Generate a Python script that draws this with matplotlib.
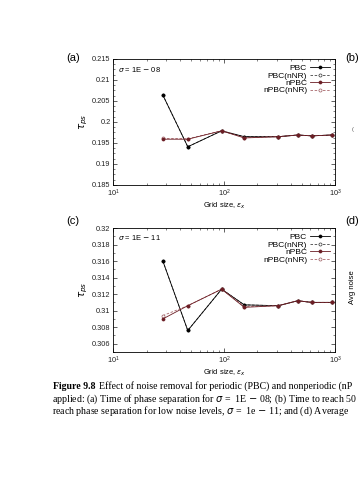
import numpy as np
import matplotlib.pyplot as plt
from matplotlib.ticker import AutoMinorLocator, FixedLocator, LogLocator, NullFormatter

# grid sizes
grid = [28, 47, 95, 152, 308, 461, 617, 935]

# (a) sigma = 1E-08
pbc_a = [0.2064, 0.1941, 0.1979, 0.1965, 0.1965, 0.1969, 0.1967, 0.1969]
pbc_nnr_a = [0.2064, 0.1941, 0.1979, 0.1965, 0.1965, 0.1969, 0.1967, 0.1969]
npbc_a = [0.1959, 0.1959, 0.1979, 0.1962, 0.1965, 0.1969, 0.1967, 0.1969]
npbc_nnr_a = [0.1961, 0.1960, 0.1979, 0.1963, 0.1965, 0.1969, 0.1967, 0.1969]

# (c) sigma = 1E-11
pbc_c = [0.3160, 0.3076, 0.3126, 0.3107, 0.3106, 0.3112, 0.3110, 0.3110]
pbc_nnr_c = [0.3160, 0.3076, 0.3126, 0.3107, 0.3106, 0.3112, 0.3110, 0.3110]
npbc_c = [0.3090, 0.3106, 0.3126, 0.3104, 0.3106, 0.3112, 0.3110, 0.3110]
npbc_nnr_c = [0.3094, 0.3106, 0.3126, 0.3105, 0.3106, 0.3112, 0.3110, 0.3110]

labels = ['PBC', 'PBC(nNR)', 'nPBC', 'nPBC(nNR)']

plt.rcParams['font.family'] = ['Liberation Sans', 'DejaVu Sans']
plt.rcParams['mathtext.fontset'] = 'dejavusans'

fig = plt.figure(figsize=(3.59, 4.80), dpi=100)


def panel(rect, series, ylim, yticks, yminor, sigma_txt):
    ax = fig.add_axes(rect)
    styles = [
        dict(color='black', ls='-', marker='o', mfc='black', mec='black'),
        dict(color='#444444', ls=(0, (3, 2)), marker='o', mfc='white', mec='#333333'),
        dict(color='#6b1d24', ls='-', marker='o', mfc='#6b1d24', mec='#6b1d24'),
        dict(color='#a8666b', ls=(0, (3, 2)), marker='o', mfc='white', mec='#9a5a5f'),
    ]
    order = [1, 0, 3, 2]
    for i in order:
        ax.plot(grid, series[i], lw=0.6, ms=2.2, mew=0.5, label=labels[i], **styles[i])
    ax.set_xscale('log')
    ax.set_xlim(10, 1000)
    ax.set_ylim(*ylim)
    ax.yaxis.set_major_locator(FixedLocator(yticks))
    ax.set_yticklabels([('%g' % v) for v in yticks])
    ax.yaxis.set_minor_locator(AutoMinorLocator(yminor))
    ax.xaxis.set_minor_locator(LogLocator(base=10, subs=np.arange(2, 10)))
    ax.xaxis.set_minor_formatter(NullFormatter())
    ax.tick_params(which='both', direction='in', top=True, right=True,
                   labelsize=5.3, colors='#222222', pad=2)
    ax.tick_params(which='major', length=3, width=0.5)
    ax.tick_params(which='minor', length=1.6, width=0.4)
    for s in ax.spines.values():
        s.set_linewidth(0.6)
    ax.set_ylabel(r'$\tau_{ps}$', fontsize=7.5)
    ax.yaxis.set_label_coords(-0.105, 0.5)
    ax.set_xlabel(r'Grid size, $\varepsilon_x$', fontsize=5.4, labelpad=1)
    ax.text(0.02, 0.92, sigma_txt, transform=ax.transAxes, fontsize=5.4, va='center')
    h, l = ax.get_legend_handles_labels()
    idx = [l.index(n) for n in labels]
    ax.legend([h[k] for k in idx], [l[k] for k in idx], loc='upper right',
              frameon=False, fontsize=6.0, markerfirst=False, handlelength=2.3,
              handletextpad=0.4, labelspacing=-0.05, borderaxespad=0.25)
    return ax


ax_a = panel([0.3156, 0.6146, 0.6174, 0.2625], [pbc_a, pbc_nnr_a, npbc_a, npbc_nnr_a],
             (0.185, 0.215), [0.185, 0.19, 0.195, 0.2, 0.205, 0.21, 0.215], 4,
             r'$\sigma$ = 1E $-$ 08')
ax_c = panel([0.3156, 0.2667, 0.6174, 0.2583], [pbc_c, pbc_nnr_c, npbc_c, npbc_nnr_c],
             (0.305, 0.32), [0.306, 0.308, 0.31, 0.312, 0.314, 0.316, 0.318, 0.32], 2,
             r'$\sigma$ = 1E $-$ 11')

# panel letters, incl. the neighbouring (cut off) panels
for x, y, s in [(73, 58, '(a)'), (352, 58, '(b)'), (73, 221, '(c)'), (352, 221, '(d)')]:
    fig.text(x / 359, 1 - y / 480, s, fontsize=8, ha='center', va='center')
fig.text(353 / 359, 1 - 130 / 480, '(', fontsize=4, ha='center', va='center', color='#555555')
fig.text(353 / 359, 1 - 287 / 480, 'Avg noise', fontsize=5.5, rotation=90,
         ha='center', va='center')

# caption (the page is cropped at the right, as in the scan)
cap = dict(fontsize=7.1, family='Liberation Serif', va='baseline')
t1 = fig.text(53 / 359, 1 - 389 / 480, 'Figure 9.8', weight='bold', **cap)
fig.canvas.draw()
bb = t1.get_window_extent()
fig.text((bb.x1 + 4) / 359, 1 - 389 / 480,
         'Effect of noise removal for periodic (PBC) and nonperiodic (nP', **cap)
fig.text(52 / 359, 1 - 401.5 / 480,
         r'applied: (a) Time of phase separation for $\sigma$ =  1E $-$ 08; (b) Time to reach 50', **cap)
fig.text(52 / 359, 1 - 414 / 480,
         r'reach phase separation for low noise levels, $\sigma$ =  1e $-$ 11; and (d) Average', **cap)

fig.savefig('out.png', dpi=100)
